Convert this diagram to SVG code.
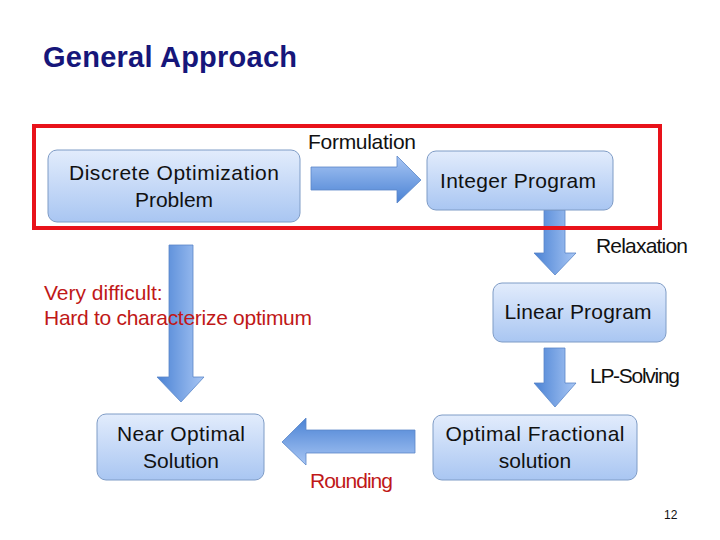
<svg xmlns="http://www.w3.org/2000/svg" width="720" height="540" viewBox="0 0 720 540">
<defs>
<linearGradient id="boxg" x1="0" y1="0" x2="0" y2="1">
<stop offset="0" stop-color="#e2ecfc"/>
<stop offset="1" stop-color="#a9c6f2"/>
</linearGradient>
<linearGradient id="arrR" x1="0" y1="0" x2="0" y2="1">
<stop offset="0" stop-color="#a8c6f4"/>
<stop offset="1" stop-color="#4a82d4"/>
</linearGradient>
<linearGradient id="arrD" x1="1" y1="0" x2="0" y2="0">
<stop offset="0" stop-color="#a8c6f4"/>
<stop offset="1" stop-color="#4a82d4"/>
</linearGradient>
<linearGradient id="arrL" x1="0" y1="1" x2="0" y2="0">
<stop offset="0" stop-color="#a8c6f4"/>
<stop offset="1" stop-color="#4a82d4"/>
</linearGradient>
<style>
.box{fill:url(#boxg);stroke:#7f9cc6;stroke-width:1}
.t{font-family:"Liberation Sans",Arial,sans-serif;font-size:21px;fill:#111}
.red{fill:#c01818}
.arrow{stroke:#5a86c8;stroke-width:0.8}
</style>
</defs>
<rect width="720" height="540" fill="#ffffff"/>

<text x="43" y="67" font-family="'Liberation Sans',Arial,sans-serif" font-size="29" font-weight="bold" fill="#16167a" textLength="254">General Approach</text>

<g id="connectors">
<path class="arrow" fill="url(#arrR)" d="M311,167 H397 V156 L421,180 L397,203 V190 H311 Z"/>
<path class="arrow" fill="url(#arrD)" d="M544,210 H565 V253 H576 L555,275 L534,253 H544 Z"/>
<path class="arrow" fill="url(#arrD)" d="M544,348 H565 V383 H576 L555,407 L534,383 H544 Z"/>
<path class="arrow" fill="url(#arrL)" d="M415,430 H306 V418 L282,442 L306,465 V453 H415 Z"/>
<path class="arrow" fill="url(#arrD)" d="M169,245 H193 V377 H204 L181,402 L157,377 H169 Z"/>
</g>

<rect x="34" y="126" width="626" height="102" fill="none" stroke="#e8121a" stroke-width="4"/>

<g id="discrete">
<rect class="box" x="48" y="150" width="252" height="72" rx="9"/>
<text class="t" x="174" y="180" text-anchor="middle" textLength="210">Discrete Optimization</text>
<text class="t" x="174" y="207" text-anchor="middle">Problem</text>
</g>
<g id="integer">
<rect class="box" x="427" y="151" width="186" height="59" rx="9"/>
<text class="t" x="518" y="188" text-anchor="middle" textLength="156">Integer Program</text>
</g>
<g id="linear">
<rect class="box" x="493" y="283" width="173" height="59" rx="9"/>
<text class="t" x="578" y="319" text-anchor="middle" textLength="147">Linear Program</text>
</g>
<g id="fractional">
<rect class="box" x="433" y="415" width="204" height="65" rx="9"/>
<text class="t" x="535" y="441" text-anchor="middle" textLength="179">Optimal Fractional</text>
<text class="t" x="535" y="468" text-anchor="middle">solution</text>
</g>
<g id="near">
<rect class="box" x="97" y="414" width="167" height="66" rx="9"/>
<text class="t" x="181" y="441" text-anchor="middle" textLength="128">Near Optimal</text>
<text class="t" x="181" y="468" text-anchor="middle">Solution</text>
</g>

<g id="labels">
<text class="t" x="308" y="149" textLength="108">Formulation</text>
<text class="t" x="596" y="253" textLength="92">Relaxation</text>
<text class="t" x="590" y="383" textLength="90">LP-Solving</text>
<text class="t red" x="310" y="488" textLength="83">Rounding</text>
<text class="t red" x="44" y="300">Very difficult:</text>
<text class="t red" x="44" y="325" textLength="268">Hard to characterize optimum</text>
<text x="664" y="519" font-family="'Liberation Sans',Arial,sans-serif" font-size="12" fill="#111">12</text>
</g>
</svg>
